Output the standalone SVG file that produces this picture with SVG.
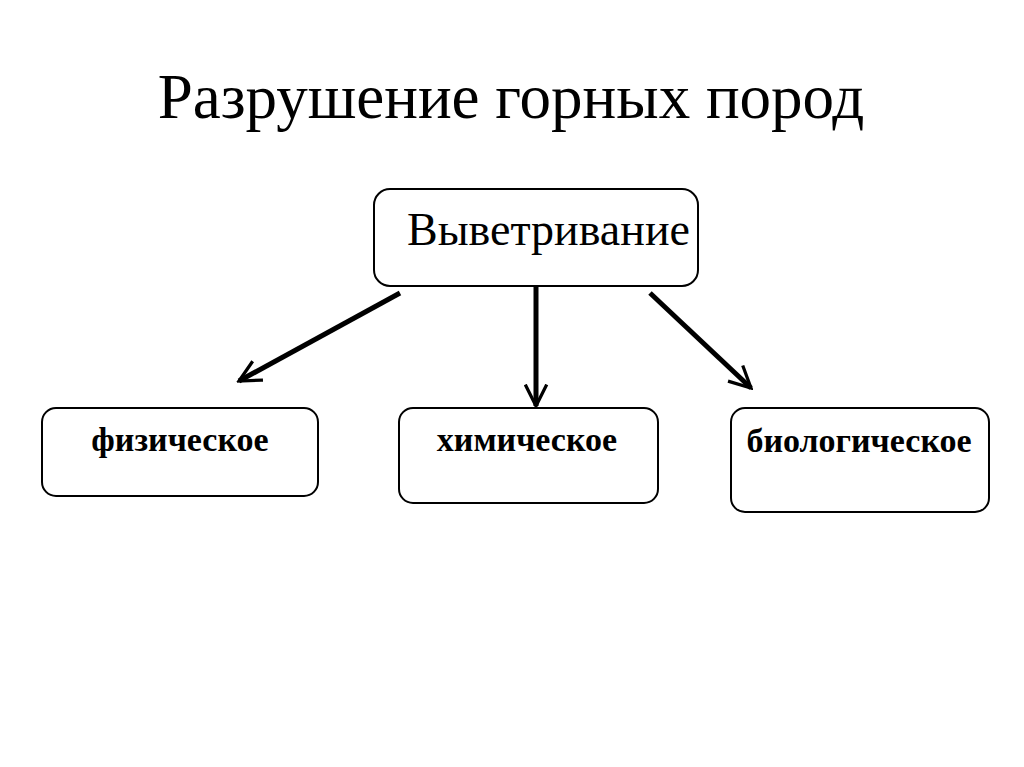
<svg xmlns="http://www.w3.org/2000/svg" width="1024" height="767" viewBox="0 0 1024 767">
<style>
.box{fill:#fff;stroke:#000;stroke-width:2}
.t{font-family:"Liberation Serif","Times New Roman",serif;fill:#000}
.b{font-weight:bold;font-size:34px}
.conn{stroke:#000;stroke-width:5;fill:none;marker-end:url(#ah)}
</style>
<defs>
<marker id="ah" viewBox="0 0 10 10" refX="9" refY="5" markerWidth="5" markerHeight="5" orient="auto" markerUnits="strokeWidth">
<polyline points="1,1 9,5 1,9" fill="none" stroke="#000" stroke-width="1.3" stroke-linecap="square"/>
</marker>
</defs>
<rect width="1024" height="767" fill="#fff"/>
<text class="t" x="511" y="118" font-size="63" text-anchor="middle">Разрушение горных пород</text>
<g id="n-vyvetrivanie">
<rect class="box" x="374" y="189" width="324" height="97" rx="16"/>
<text class="t" x="407" y="245" font-size="46">Выветривание</text>
</g>
<g id="n-fizicheskoe">
<rect class="box" x="42" y="408" width="276" height="88" rx="14"/>
<text class="t b" x="180" y="451" text-anchor="middle">физическое</text>
</g>
<g id="n-khimicheskoe">
<rect class="box" x="399" y="408" width="259" height="95" rx="14"/>
<text class="t b" x="527" y="451" text-anchor="middle">химическое</text>
</g>
<g id="n-biologicheskoe">
<rect class="box" x="731" y="408" width="258" height="104" rx="14"/>
<text class="t b" x="859" y="452" text-anchor="middle">биологическое</text>
</g>
<g id="connectors">
<line class="conn" x1="400" y1="293" x2="239" y2="381"/>
<line class="conn" x1="536" y1="285" x2="536" y2="406"/>
<line class="conn" x1="650" y1="293" x2="751" y2="388"/>
</g>
</svg>
